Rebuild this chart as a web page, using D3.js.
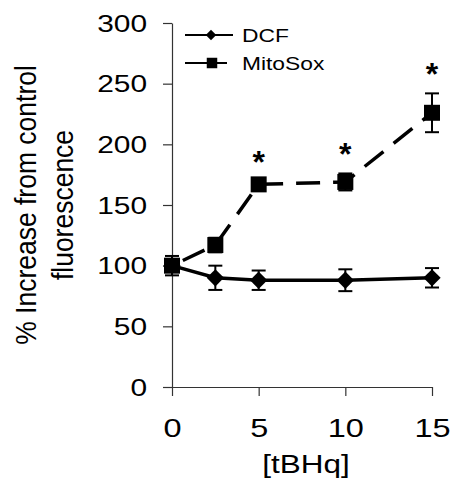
<!DOCTYPE html>
<html>
<head>
<meta charset="utf-8">
<script src="https://cdn.jsdelivr.net/npm/d3@7"></script>
<style>
  html, body { margin: 0; padding: 0; background: #fff; }
  svg { display: block; }
  text { font-family: "Liberation Sans", Arial, sans-serif; fill: #000; }
</style>
</head>
<body>
<svg id="chart" width="452" height="479"></svg>
<script>
// ---- data ----
const doses = [0, 2.5, 5, 10, 15];
const dcfMean = [100, 90, 88, 88, 90];
const dcfErr = [0, 10, 8, 9, 8];
const mitoMean = [100, 117, 167, 169, 226];
const mitoErr = [8, 6, 3, 7, 16];
const mitoSig = [false, false, true, true, true];
const xTicks = [0, 5, 10, 15];
const yTicks = [0, 50, 100, 150, 200, 250, 300];
const seriesNames = ["DCF", "MitoSox"];
const xLabel = "[tBHq]";
const yLabelLines = ["% Increase from control", "fluorescence"];

// ---- layout ----
const svg = d3.select("#chart");
const x = d3.scaleLinear().domain([0, 15]).range([172, 432]);
const y = d3.scaleLinear().domain([0, 300]).range([387, 23]);
const axisColor = "#333";
const FONT = '"Liberation Sans", Arial, sans-serif';
const SX = 1.3; // horizontal stretch of text in the reference

// axes
const yAxis = svg.append("g").attr("transform", "translate(172,0)")
  .call(d3.axisLeft(y).tickValues(yTicks).tickSize(9).tickPadding(16).tickSizeOuter(0));
const xAxis = svg.append("g").attr("transform", "translate(0,387)")
  .call(d3.axisBottom(x).tickValues(xTicks).tickSize(9).tickPadding(23).tickSizeOuter(0));
[yAxis, xAxis].forEach(g => {
  g.select(".domain").attr("stroke", axisColor).attr("stroke-width", 1.2);
  g.selectAll(".tick line").attr("stroke", axisColor).attr("stroke-width", 1.2);
  g.selectAll(".tick text").style("font-family", FONT).attr("fill", "#000");
});
yAxis.selectAll(".tick text").style("font-size", "23px").attr("dy", "0.36em")
  .attr("x", -25 / SX).attr("transform", `scale(${SX},1)`);
xAxis.selectAll(".tick text").style("font-size", "25px")
  .attr("transform", `scale(${SX},1)`);

// axis titles
svg.append("text").attr("transform", `translate(306,473) scale(1.26,1)`)
  .attr("text-anchor", "middle").style("font-size", "25px").text(xLabel);
const yl = svg.append("text").attr("transform", "translate(0,205) scale(1.1,1) rotate(-90)")
  .attr("text-anchor", "middle").style("font-size", "26.5px");
yl.append("tspan").attr("x", 0).attr("y", 33).text(yLabelLines[0]);
yl.append("tspan").attr("x", 0).attr("y", 66).text(yLabelLines[1]);

const dcf = doses.map((d, i) => ({x: d, m: dcfMean[i], e: dcfErr[i]}));
const mito = doses.map((d, i) => ({x: d, m: mitoMean[i], e: mitoErr[i], s: mitoSig[i]}));
const line = d3.line().x(d => x(d.x)).y(d => y(d.m));

// lines
svg.append("path").datum(dcf).attr("d", line).attr("fill", "none")
  .attr("stroke", "#000").attr("stroke-width", 3.5);
svg.append("path").datum(mito).attr("d", line).attr("fill", "none")
  .attr("stroke", "#000").attr("stroke-width", 3.5).attr("stroke-dasharray", "24,13")
  .attr("stroke-dashoffset", -12);

// error bars
function errBars(data) {
  const g = svg.append("g").attr("stroke", "#000").attr("stroke-width", 2);
  data.filter(d => d.e > 0).forEach(d => {
    const cx = x(d.x);
    g.append("line").attr("x1", cx).attr("x2", cx).attr("y1", y(d.m - d.e)).attr("y2", y(d.m + d.e));
    g.append("line").attr("x1", cx - 7).attr("x2", cx + 7).attr("y1", y(d.m - d.e)).attr("y2", y(d.m - d.e));
    g.append("line").attr("x1", cx - 7).attr("x2", cx + 7).attr("y1", y(d.m + d.e)).attr("y2", y(d.m + d.e));
  });
}
errBars(dcf);
errBars(mito);

// markers
const diamond = d3.symbol().type(d3.symbolSquare).size(150);
const square = d3.symbol().type(d3.symbolSquare).size(256);
svg.append("g").selectAll("path").data(dcf).join("path")
  .attr("d", diamond).attr("transform", d => `translate(${x(d.x)},${y(d.m)}) rotate(45)`);
svg.append("g").selectAll("path").data(mito).join("path")
  .attr("d", square).attr("transform", d => `translate(${x(d.x)},${y(d.m)})`);

// significance asterisks
svg.append("g").selectAll("text").data(mito.filter(d => d.s)).join("text")
  .attr("x", d => x(d.x)).attr("y", d => y(d.m + d.e) - 8)
  .attr("text-anchor", "middle").style("font-size", "32px").style("font-weight", "bold")
  .text("*");

// legend
const leg = svg.append("g");
leg.append("line").attr("x1", 185).attr("x2", 233).attr("y1", 35).attr("y2", 35)
  .attr("stroke", "#000").attr("stroke-width", 2);
leg.append("path").attr("d", d3.symbol().type(d3.symbolSquare).size(55))
  .attr("transform", "translate(211,35) rotate(45)");
leg.append("line").attr("x1", 185).attr("x2", 227).attr("y1", 63).attr("y2", 63)
  .attr("stroke", "#000").attr("stroke-width", 2);
leg.append("path").attr("d", d3.symbol().type(d3.symbolSquare).size(110))
  .attr("transform", "translate(212,63)");
leg.append("text").attr("transform", "translate(242,42) scale(1.2,1)")
  .style("font-size", "19px").text(seriesNames[0]);
leg.append("text").attr("transform", "translate(242,70) scale(1.2,1)")
  .style("font-size", "19px").text(seriesNames[1]);
</script>
</body>
</html>
